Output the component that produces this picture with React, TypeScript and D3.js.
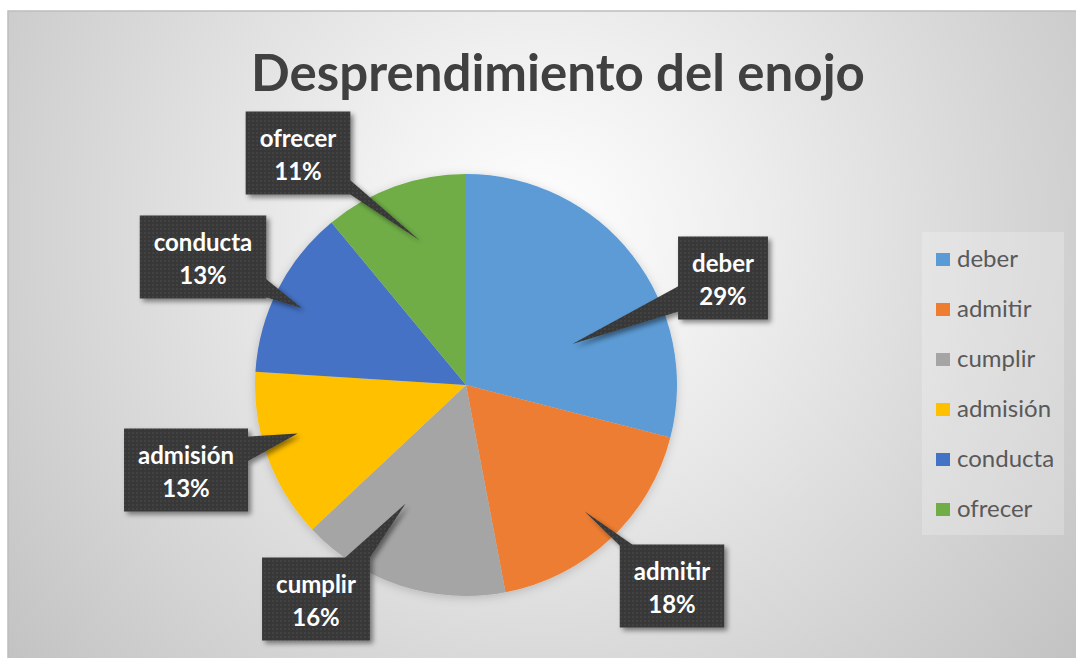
import React, { useEffect, useRef } from "react";
import * as d3 from "d3";

const title = "Desprendimiento del enojo";
const categories = ["deber", "admitir", "cumplir", "admisión", "conducta", "ofrecer"];
const values = [29, 18, 16, 13, 13, 11];
const percentLabels = ["29%", "18%", "16%", "13%", "13%", "11%"];
const colors = ["#5B9BD5", "#ED7D31", "#A5A5A5", "#FFC000", "#4472C4", "#70AD47"];

// layout of the data-label callouts (box centres, and where the pointer lands inside each slice)
const labelCenters: [number, number][] = [
  [723, 278],
  [672, 586],
  [316, 599],
  [186, 470],
  [203, 257],
  [298, 153],
];
const tipAngleFrac = [0.66, 0.5, 0.656, 0.58, 0.46, 0.55];
const tipRadiusFrac = [0.54, 0.82, 0.63, 0.83, 0.86, 0.72];

const W = 1076;
const H = 658;
const CX = 466;
const CY = 385;
const R = 211;
const FONT = "Lato, 'Open Sans', 'DejaVu Sans', sans-serif";

export default function App() {
  const ref = useRef<SVGSVGElement | null>(null);

  useEffect(() => {
    const svg = d3.select(ref.current as SVGSVGElement);
    svg.selectAll("*").remove();

    const defs = svg.append("defs");
    const grad = defs
      .append("radialGradient")
      .attr("id", "bg")
      .attr("gradientUnits", "userSpaceOnUse")
      .attr("cx", 540)
      .attr("cy", 230)
      .attr("r", 680);
    grad.append("stop").attr("offset", "0").attr("stop-color", "#ffffff");
    grad.append("stop").attr("offset", "0.25").attr("stop-color", "#f1f1f1");
    grad.append("stop").attr("offset", "1").attr("stop-color", "#c3c3c3");

    const pat = defs
      .append("pattern")
      .attr("id", "dots")
      .attr("patternUnits", "userSpaceOnUse")
      .attr("width", 4)
      .attr("height", 4);
    pat.append("rect").attr("width", 4).attr("height", 4).attr("fill", "#393939");
    pat.append("circle").attr("cx", 1).attr("cy", 1).attr("r", 0.7).attr("fill", "#555555");

    const sh = defs.append("filter").attr("id", "boxShadow").attr("x", "-30%").attr("y", "-30%").attr("width", "160%").attr("height", "160%");
    sh.append("feDropShadow").attr("dx", 3).attr("dy", 3).attr("stdDeviation", 2.5).attr("flood-color", "#000").attr("flood-opacity", 0.45);

    const ps = defs.append("filter").attr("id", "pieShadow").attr("x", "-20%").attr("y", "-20%").attr("width", "140%").attr("height", "140%");
    ps.append("feDropShadow").attr("dx", 0).attr("dy", 2).attr("stdDeviation", 5).attr("flood-color", "#000").attr("flood-opacity", 0.18);

    // background
    svg.append("rect").attr("x", 0).attr("y", 0).attr("width", W).attr("height", H).attr("fill", "#ffffff");
    svg
      .append("rect")
      .attr("x", 8)
      .attr("y", 11)
      .attr("width", W + 20)
      .attr("height", H + 20)
      .attr("fill", "url(#bg)")
      .attr("stroke", "#bdbdbd")
      .attr("stroke-width", 1.5);

    // title
    svg
      .append("text")
      .attr("x", 558)
      .attr("y", 91)
      .attr("text-anchor", "middle")
      .attr("font-family", FONT)
      .attr("font-weight", "bold")
      .attr("font-size", 51)
      .attr("fill", "#404040")
      .text(title);

    // pie
    const pie = d3.pie<number>().sort(null).value((d) => d);
    const arcs = pie(values);
    const arc = d3.arc<d3.PieArcDatum<number>>().innerRadius(0).outerRadius(R);
    const g = svg.append("g").attr("transform", `translate(${CX},${CY})`).attr("filter", "url(#pieShadow)");
    g.selectAll("path")
      .data(arcs)
      .join("path")
      .attr("d", arc as any)
      .attr("fill", (_, i) => colors[i]);

    // data labels
    const lab = svg.append("g");
    arcs.forEach((a, i) => {
      const ang = a.startAngle + tipAngleFrac[i] * (a.endAngle - a.startAngle);
      const r = tipRadiusFrac[i] * R;
      const tx = CX + r * Math.sin(ang);
      const ty = CY - r * Math.cos(ang);
      const [cx, cy] = labelCenters[i];

      const grp = lab.append("g");
      const shapes = grp.append("g").attr("filter", "url(#boxShadow)");
      const txt = grp
        .append("text")
        .attr("text-anchor", "middle")
        .attr("font-family", FONT)
        .attr("font-weight", "bold")
        .attr("font-size", 24)
        .attr("fill", "#ffffff");
      txt.append("tspan").attr("x", cx).attr("y", cy - 6).text(categories[i]);
      txt.append("tspan").attr("x", cx).attr("y", cy + 27).text(percentLabels[i]);
      const bb = (txt.node() as SVGTextElement).getBBox();
      const hw = bb.width / 2 + 14;
      const hh = 41.5;

      const dx = tx - cx;
      const dy = ty - cy;
      const tv = Math.abs(dx) > 0 ? hw / Math.abs(dx) : Infinity;
      const th = Math.abs(dy) > 0 ? hh / Math.abs(dy) : Infinity;
      let b1: [number, number];
      let b2: [number, number];
      const half = 13;
      if (tv < th) {
        const px = cx + tv * dx;
        const py = cy + tv * dy;
        const y1 = Math.max(cy - hh + 2, py - half);
        const y2 = Math.min(cy + hh - 2, py + half);
        const inset = dx > 0 ? -3 : 3;
        b1 = [px + inset, y1];
        b2 = [px + inset, y2];
      } else {
        const px = cx + th * dx;
        const py = cy + th * dy;
        const x1 = Math.max(cx - hw + 2, px - half);
        const x2 = Math.min(cx + hw - 2, px + half);
        const inset = dy > 0 ? -3 : 3;
        b1 = [x1, py + inset];
        b2 = [x2, py + inset];
      }
      shapes
        .append("path")
        .attr("d", d3.line()([b1, [tx, ty], b2]) + "Z")
        .attr("fill", "url(#dots)");
      shapes
        .append("rect")
        .attr("x", cx - hw)
        .attr("y", cy - hh)
        .attr("width", hw * 2)
        .attr("height", hh * 2)
        .attr("fill", "url(#dots)");
    });

    // legend
    const leg = svg.append("g");
    leg
      .append("rect")
      .attr("x", 922)
      .attr("y", 232)
      .attr("width", 142)
      .attr("height", 303)
      .attr("fill", "#ffffff")
      .attr("fill-opacity", 0.22);
    const ly = d3.scalePoint<string>().domain(categories).range([267, 517]);
    categories.forEach((c, i) => {
      const y = ly(c) as number;
      leg.append("rect").attr("x", 936).attr("y", y - 14).attr("width", 14).attr("height", 13).attr("fill", colors[i]);
      leg
        .append("text")
        .attr("x", 957)
        .attr("y", y)
        .attr("font-family", FONT)
        .attr("font-size", 24)
        .attr("fill", "#595959")
        .text(c);
    });
  }, []);

  return (
    <div style={{ position: "absolute", left: 0, top: 0 }}>
      <svg ref={ref} width={W} height={H} style={{ display: "block" }} />
    </div>
  );
}
